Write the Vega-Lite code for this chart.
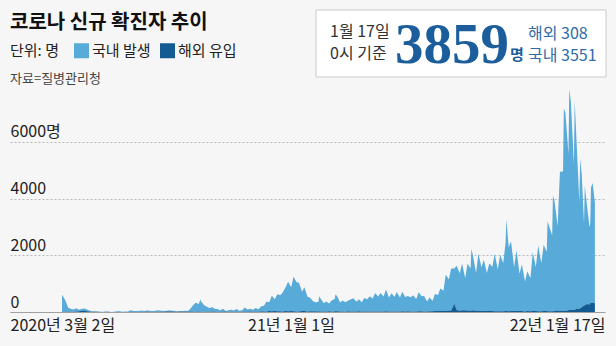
{
  "$schema": "https://vega.github.io/schema/vega-lite/v6.json",
  "width": 595,
  "height": 227,
  "autosize": {"type": "none"},
  "padding": {"left": 10, "top": 85, "right": 11, "bottom": 34},
  "background": "#f6f6f6",
  "title": {
    "text": "코로나 신규 확진자 추이",
    "subtitle": "자료=질병관리청",
    "anchor": "start",
    "frame": "group",
    "font": "Noto Sans CJK KR",
    "fontSize": 20,
    "fontWeight": "bold",
    "color": "#111111",
    "subtitleFont": "Noto Sans CJK KR",
    "subtitleFontSize": 13,
    "subtitleColor": "#444444",
    "subtitlePadding": 40,
    "offset": 1,
    "dy": 77
  },
  "datasets": {
    "확진자": [
      {"날짜": "2020-03-02", "국내 발생": 600, "해외 유입": 4},
      {"날짜": "2020-03-03", "국내 발생": 560, "해외 유입": 4},
      {"날짜": "2020-03-06", "국내 발생": 420, "해외 유입": 5},
      {"날짜": "2020-03-10", "국내 발생": 140, "해외 유입": 6},
      {"날짜": "2020-03-13", "국내 발생": 105, "해외 유입": 8},
      {"날짜": "2020-03-17", "국내 발생": 75, "해외 유입": 9},
      {"날짜": "2020-03-20", "국내 발생": 120, "해외 유입": 15},
      {"날짜": "2020-03-24", "국내 발생": 45, "해외 유입": 30},
      {"날짜": "2020-03-27", "국내 발생": 65, "해외 유입": 45},
      {"날짜": "2020-03-31", "국내 발생": 70, "해외 유입": 50},
      {"날짜": "2020-04-03", "국내 발생": 55, "해외 유입": 30},
      {"날짜": "2020-04-07", "국내 발생": 28, "해외 유입": 20},
      {"날짜": "2020-04-10", "국내 발생": 15, "해외 유입": 12},
      {"날짜": "2020-04-14", "국내 발생": 18, "해외 유입": 10},
      {"날짜": "2020-04-17", "국내 발생": 14, "해외 유입": 8},
      {"날짜": "2020-04-21", "국내 발생": 5, "해외 유입": 4},
      {"날짜": "2020-04-24", "국내 발생": 2, "해외 유입": 4},
      {"날짜": "2020-04-28", "국내 발생": 6, "해외 유입": 8},
      {"날짜": "2020-05-01", "국내 발생": 4, "해외 유입": 5},
      {"날짜": "2020-05-05", "국내 발생": 1, "해외 유입": 2},
      {"날짜": "2020-05-08", "국내 발생": 10, "해외 유입": 2},
      {"날짜": "2020-05-12", "국내 발생": 25, "해외 유입": 2},
      {"날짜": "2020-05-15", "국내 발생": 24, "해외 유입": 3},
      {"날짜": "2020-05-19", "국내 발생": 10, "해외 유입": 3},
      {"날짜": "2020-05-22", "국내 발생": 17, "해외 유입": 3},
      {"날짜": "2020-05-26", "국내 발생": 16, "해외 유입": 3},
      {"날짜": "2020-05-29", "국내 발생": 54, "해외 유입": 4},
      {"날짜": "2020-06-02", "국내 발생": 31, "해외 유입": 7},
      {"날짜": "2020-06-05", "국내 발생": 32, "해외 유입": 7},
      {"날짜": "2020-06-09", "국내 발생": 35, "해외 유입": 3},
      {"날짜": "2020-06-12", "국내 발생": 49, "해외 유입": 7},
      {"날짜": "2020-06-16", "국내 발생": 27, "해외 유입": 10},
      {"날짜": "2020-06-19", "국내 발생": 33, "해외 유입": 16},
      {"날짜": "2020-06-23", "국내 발생": 35, "해외 유입": 11},
      {"날짜": "2020-06-26", "국내 발생": 28, "해외 유입": 11},
      {"날짜": "2020-06-30", "국내 발생": 30, "해외 유입": 12},
      {"날짜": "2020-07-03", "국내 발생": 52, "해외 유입": 11},
      {"날짜": "2020-07-07", "국내 발생": 24, "해외 유입": 20},
      {"날짜": "2020-07-10", "국내 발생": 35, "해외 유입": 10},
      {"날짜": "2020-07-14", "국내 발생": 10, "해외 유입": 23},
      {"날짜": "2020-07-17", "국내 발생": 39, "해외 유입": 21},
      {"날짜": "2020-07-21", "국내 발생": 19, "해외 유입": 26},
      {"날짜": "2020-07-24", "국내 발생": 25, "해외 유입": 16},
      {"날짜": "2020-07-28", "국내 발생": 15, "해외 유입": 13},
      {"날짜": "2020-07-31", "국내 발생": 18, "해외 유입": 18},
      {"날짜": "2020-08-04", "국내 발생": 20, "해외 유입": 14},
      {"날짜": "2020-08-07", "국내 발생": 23, "해외 유입": 20},
      {"날짜": "2020-08-11", "국내 발생": 20, "해외 유입": 14},
      {"날짜": "2020-08-14", "국내 발생": 85, "해외 유입": 18},
      {"날짜": "2020-08-18", "국내 발생": 235, "해외 유입": 11},
      {"날짜": "2020-08-21", "국내 발생": 315, "해외 유입": 9},
      {"날짜": "2020-08-25", "국내 발생": 266, "해외 유입": 14},
      {"날짜": "2020-08-27", "국내 발생": 434, "해외 유입": 7},
      {"날짜": "2020-08-28", "국내 발생": 359, "해외 유입": 12},
      {"날짜": "2020-09-01", "국내 발생": 222, "해외 유입": 13},
      {"날짜": "2020-09-04", "국내 발생": 189, "해외 유입": 9},
      {"날짜": "2020-09-08", "국내 발생": 130, "해외 유입": 6},
      {"날짜": "2020-09-11", "국내 발생": 161, "해외 유입": 15},
      {"날짜": "2020-09-15", "국내 발생": 91, "해외 유입": 15},
      {"날짜": "2020-09-18", "국내 발생": 98, "해외 유입": 12},
      {"날짜": "2020-09-22", "국내 발생": 51, "해외 유입": 10},
      {"날짜": "2020-09-25", "국내 발생": 95, "해외 유입": 19},
      {"날짜": "2020-09-29", "국내 발생": 23, "해외 유입": 15},
      {"날짜": "2020-10-02", "국내 발생": 52, "해외 유입": 11},
      {"날짜": "2020-10-06", "국내 발생": 64, "해외 유입": 11},
      {"날짜": "2020-10-09", "국내 발생": 48, "해외 유입": 6},
      {"날짜": "2020-10-13", "국내 발생": 94, "해외 유입": 8},
      {"날짜": "2020-10-16", "국내 발생": 40, "해외 유입": 7},
      {"날짜": "2020-10-20", "국내 발생": 47, "해외 유입": 11},
      {"날짜": "2020-10-23", "국내 발생": 138, "해외 유입": 17},
      {"날짜": "2020-10-27", "국내 발생": 74, "해외 유입": 14},
      {"날짜": "2020-10-30", "국내 발생": 96, "해외 유입": 18},
      {"날짜": "2020-11-03", "국내 발생": 65, "해외 유입": 10},
      {"날짜": "2020-11-06", "국내 발생": 125, "해외 유입": 20},
      {"날짜": "2020-11-10", "국내 발생": 87, "해외 유입": 13},
      {"날짜": "2020-11-13", "국내 발생": 162, "해외 유입": 29},
      {"날짜": "2020-11-17", "국내 발생": 202, "해외 유입": 21},
      {"날짜": "2020-11-20", "국내 발생": 343, "해외 유입": 20},
      {"날짜": "2020-11-24", "국내 발생": 318, "해외 유입": 31},
      {"날짜": "2020-11-27", "국내 발생": 541, "해외 유입": 28},
      {"날짜": "2020-12-01", "국내 발생": 420, "해외 유입": 31},
      {"날짜": "2020-12-04", "국내 발생": 600, "해외 유입": 29},
      {"날짜": "2020-12-08", "국내 발생": 566, "해외 유입": 28},
      {"날짜": "2020-12-11", "국내 발생": 671, "해외 유입": 18},
      {"날짜": "2020-12-15", "국내 발생": 848, "해외 유입": 32},
      {"날짜": "2020-12-18", "국내 발생": 1036, "해외 유입": 26},
      {"날짜": "2020-12-22", "국내 발생": 837, "해외 유입": 32},
      {"날짜": "2020-12-25", "국내 발생": 1216, "해외 유입": 25},
      {"날짜": "2020-12-29", "국내 발생": 1030, "해외 유입": 16},
      {"날짜": "2021-01-01", "국내 발생": 1007, "해외 유입": 22},
      {"날짜": "2021-01-05", "국내 발생": 680, "해외 유입": 35},
      {"날짜": "2021-01-08", "국내 발생": 838, "해외 유입": 31},
      {"날짜": "2021-01-12", "국내 발생": 516, "해외 유입": 21},
      {"날짜": "2021-01-15", "국내 발생": 488, "해외 유입": 25},
      {"날짜": "2021-01-19", "국내 발생": 361, "해외 유입": 25},
      {"날짜": "2021-01-22", "국내 발생": 322, "해외 유입": 24},
      {"날짜": "2021-01-26", "국내 발생": 334, "해외 유입": 20},
      {"날짜": "2021-01-27", "국내 발생": 531, "해외 유입": 28},
      {"날짜": "2021-01-29", "국내 발생": 447, "해외 유입": 22},
      {"날짜": "2021-02-02", "국내 발생": 285, "해외 유입": 20},
      {"날짜": "2021-02-05", "국내 발생": 353, "해외 유입": 17},
      {"날짜": "2021-02-09", "국내 발생": 278, "해외 유입": 25},
      {"날짜": "2021-02-12", "국내 발생": 384, "해외 유입": 19},
      {"날짜": "2021-02-16", "국내 발생": 439, "해외 유입": 18},
      {"날짜": "2021-02-17", "국내 발생": 590, "해외 유입": 31},
      {"날짜": "2021-02-19", "국내 발생": 537, "해외 유입": 24},
      {"날짜": "2021-02-23", "국내 발생": 318, "해외 유입": 14},
      {"날짜": "2021-02-26", "국내 발생": 388, "해외 유입": 18},
      {"날짜": "2021-03-02", "국내 발생": 331, "해외 유입": 13},
      {"날짜": "2021-03-05", "국내 발생": 373, "해외 유입": 25},
      {"날짜": "2021-03-09", "국내 발생": 427, "해외 유입": 19},
      {"날짜": "2021-03-12", "국내 발생": 470, "해외 유입": 18},
      {"날짜": "2021-03-16", "국내 발생": 346, "해외 유입": 17},
      {"날짜": "2021-03-19", "국내 발생": 429, "해외 유입": 23},
      {"날짜": "2021-03-23", "국내 발생": 330, "해외 유입": 16},
      {"날짜": "2021-03-26", "국내 발생": 477, "해외 유입": 17},
      {"날짜": "2021-03-30", "국내 발생": 428, "해외 유입": 19},
      {"날짜": "2021-04-02", "국내 발생": 538, "해외 유입": 20},
      {"날짜": "2021-04-06", "국내 발생": 459, "해외 유입": 19},
      {"날짜": "2021-04-09", "국내 발생": 650, "해외 유입": 21},
      {"날짜": "2021-04-13", "국내 발생": 525, "해외 유입": 17},
      {"날짜": "2021-04-16", "국내 발생": 651, "해외 유입": 22},
      {"날짜": "2021-04-20", "국내 발생": 532, "해외 유입": 17},
      {"날짜": "2021-04-23", "국내 발생": 774, "해외 유입": 23},
      {"날짜": "2021-04-27", "국내 발생": 494, "해외 유입": 18},
      {"날짜": "2021-04-30", "국내 발생": 640, "해외 유입": 21},
      {"날짜": "2021-05-04", "국내 발생": 521, "해외 유입": 20},
      {"날짜": "2021-05-07", "국내 발생": 681, "해외 유입": 20},
      {"날짜": "2021-05-11", "국내 발생": 494, "해외 유입": 17},
      {"날짜": "2021-05-14", "국내 발생": 688, "해외 유입": 27},
      {"날짜": "2021-05-18", "국내 발생": 510, "해외 유입": 18},
      {"날짜": "2021-05-21", "국내 발생": 537, "해외 유입": 24},
      {"날짜": "2021-05-25", "국내 발생": 497, "해외 유입": 19},
      {"날짜": "2021-05-28", "국내 발생": 565, "해외 유입": 22},
      {"날짜": "2021-06-01", "국내 발생": 441, "해외 유입": 18},
      {"날짜": "2021-06-04", "국내 발생": 668, "해외 유입": 27},
      {"날짜": "2021-06-08", "국내 발생": 533, "해외 유입": 23},
      {"날짜": "2021-06-11", "국내 발생": 543, "해외 유입": 22},
      {"날짜": "2021-06-15", "국내 발생": 351, "해외 유입": 22},
      {"날짜": "2021-06-18", "국내 발생": 483, "해외 유입": 24},
      {"날짜": "2021-06-22", "국내 발생": 369, "해외 유입": 26},
      {"날짜": "2021-06-25", "국내 발생": 601, "해외 유입": 33},
      {"날짜": "2021-06-29", "국내 발생": 561, "해외 유입": 34},
      {"날짜": "2021-07-02", "국내 발생": 794, "해외 유입": 32},
      {"날짜": "2021-07-06", "국내 발생": 711, "해외 유입": 35},
      {"날짜": "2021-07-09", "국내 발생": 1275, "해외 유입": 41},
      {"날짜": "2021-07-13", "국내 발생": 1100, "해외 유입": 50},
      {"날짜": "2021-07-16", "국내 발생": 1487, "해외 유입": 49},
      {"날짜": "2021-07-20", "국내 발생": 1230, "해외 유입": 300},
      {"날짜": "2021-07-23", "국내 발생": 1562, "해외 유입": 68},
      {"날짜": "2021-07-27", "국내 발생": 1318, "해외 유입": 47},
      {"날짜": "2021-07-30", "국내 발생": 1651, "해외 유입": 59},
      {"날짜": "2021-08-03", "국내 발생": 1142, "해외 유입": 60},
      {"날짜": "2021-08-06", "국내 발생": 1648, "해외 유입": 56},
      {"날짜": "2021-08-10", "국내 발생": 1492, "해외 유입": 48},
      {"날짜": "2021-08-11", "국내 발생": 2167, "해외 유입": 56},
      {"날짜": "2021-08-13", "국내 발생": 1930, "해외 유입": 60},
      {"날짜": "2021-08-17", "국내 발생": 1326, "해외 유입": 46},
      {"날짜": "2021-08-20", "국내 발생": 2005, "해외 유입": 47},
      {"날짜": "2021-08-24", "국내 발생": 1539, "해외 유입": 37},
      {"날짜": "2021-08-27", "국내 발생": 1802, "해외 유입": 39},
      {"날짜": "2021-08-31", "국내 발생": 1332, "해외 유입": 40},
      {"날짜": "2021-09-03", "국내 발생": 1672, "해외 유입": 37},
      {"날짜": "2021-09-07", "국내 발생": 1565, "해외 유입": 32},
      {"날짜": "2021-09-10", "국내 발생": 2019, "해외 유입": 30},
      {"날짜": "2021-09-14", "국내 발생": 1469, "해외 유입": 28},
      {"날짜": "2021-09-17", "국내 발생": 1979, "해외 유입": 29},
      {"날짜": "2021-09-21", "국내 발생": 1699, "해외 유입": 30},
      {"날짜": "2021-09-24", "국내 발생": 2400, "해외 유입": 34},
      {"날짜": "2021-09-25", "국내 발생": 3239, "해외 유입": 34},
      {"날짜": "2021-09-28", "국내 발생": 2259, "해외 유입": 30},
      {"날짜": "2021-10-01", "국내 발생": 2453, "해외 유입": 33},
      {"날짜": "2021-10-05", "국내 발생": 1541, "해외 유입": 34},
      {"날짜": "2021-10-08", "국내 발생": 2142, "해외 유입": 33},
      {"날짜": "2021-10-12", "국내 발생": 1315, "해외 유입": 32},
      {"날짜": "2021-10-15", "국내 발생": 1653, "해외 유입": 31},
      {"날짜": "2021-10-19", "국내 발생": 1053, "해외 유입": 20},
      {"날짜": "2021-10-22", "국내 발생": 1407, "해외 유입": 32},
      {"날짜": "2021-10-26", "국내 발생": 1160, "해외 유입": 30},
      {"날짜": "2021-10-29", "국내 발생": 2072, "해외 유입": 32},
      {"날짜": "2021-11-02", "국내 발생": 1557, "해외 유입": 32},
      {"날짜": "2021-11-05", "국내 발생": 2318, "해외 유입": 26},
      {"날짜": "2021-11-09", "국내 발생": 1686, "해외 유입": 29},
      {"날짜": "2021-11-12", "국내 발생": 2332, "해외 유입": 36},
      {"날짜": "2021-11-16", "국내 발생": 2094, "해외 유입": 31},
      {"날짜": "2021-11-17", "국내 발생": 3163, "해외 유입": 24},
      {"날짜": "2021-11-19", "국내 발생": 3009, "해외 유입": 25},
      {"날짜": "2021-11-23", "국내 발생": 2669, "해외 유입": 30},
      {"날짜": "2021-11-24", "국내 발생": 4088, "해외 유입": 28},
      {"날짜": "2021-11-26", "국내 발생": 3862, "해외 유입": 37},
      {"날짜": "2021-11-30", "국내 발생": 2976, "해외 유입": 56},
      {"날짜": "2021-12-03", "국내 발생": 4897, "해외 유입": 47},
      {"날짜": "2021-12-07", "국내 발생": 4916, "해외 유입": 38},
      {"날짜": "2021-12-08", "국내 발생": 7142, "해외 유입": 33},
      {"날짜": "2021-12-10", "국내 발생": 6977, "해외 유입": 45},
      {"날짜": "2021-12-14", "국내 발생": 5509, "해외 유입": 58},
      {"날짜": "2021-12-15", "국내 발생": 7770, "해외 유입": 80},
      {"날짜": "2021-12-17", "국내 발생": 7362, "해외 유입": 73},
      {"날짜": "2021-12-21", "국내 발생": 5126, "해외 유입": 76},
      {"날짜": "2021-12-22", "국내 발생": 7373, "해외 유입": 83},
      {"날짜": "2021-12-24", "국내 발생": 6115, "해외 유입": 118},
      {"날짜": "2021-12-28", "국내 발생": 3762, "해외 유입": 103},
      {"날짜": "2021-12-29", "국내 발생": 5280, "해외 유입": 129},
      {"날짜": "2021-12-31", "국내 발생": 4704, "해외 유입": 171},
      {"날짜": "2022-01-03", "국내 발생": 2900, "해외 유입": 229},
      {"날짜": "2022-01-04", "국내 발생": 4203, "해외 유입": 239},
      {"날짜": "2022-01-07", "국내 발생": 3435, "해외 유입": 278},
      {"날짜": "2022-01-10", "국내 발생": 2740, "해외 유입": 265},
      {"날짜": "2022-01-11", "국내 발생": 2790, "해외 유입": 304},
      {"날짜": "2022-01-12", "국내 발생": 4060, "해외 유입": 326},
      {"날짜": "2022-01-14", "국내 발생": 4214, "해외 유입": 328},
      {"날짜": "2022-01-17", "국내 발생": 3551, "해외 유입": 308}
    ],
    "요약": [
      {"칸": "기준", "줄": "위", "글": "1월 17일"},
      {"칸": "기준", "줄": "아래", "글": "0시 기준"},
      {"칸": "총계", "줄": "아래", "글": "3859"},
      {"칸": "단위", "줄": "아래", "글": "명"},
      {"칸": "내역", "줄": "위", "글": "해외 308"},
      {"칸": "내역", "줄": "아래", "글": "국내 3551"}
    ]
  },
  "layer": [
    {
      "data": {"name": "확진자"},
      "transform": [{"fold": ["국내 발생", "해외 유입"], "as": ["구분", "확진자 수"]}],
      "mark": {"type": "area", "interpolate": "linear"},
      "encoding": {
        "x": {
          "field": "날짜",
          "type": "temporal",
          "scale": {"domain": [{"year": 2019, "month": 12, "date": 26, "utc": true}, {"year": 2022, "month": 1, "date": 30, "utc": true}]},
          "axis": {
            "title": null,
            "values": [{"year": 2020, "month": 3, "date": 2, "utc": true}, {"year": 2021, "month": 1, "date": 1, "utc": true}, {"year": 2022, "month": 1, "date": 17, "utc": true}],
            "labelExpr": "datum.index == 0 ? utcFormat(datum.value, '%Y년 %-m월 %-d일') : utcFormat(datum.value, '%y년 %-m월 %-d일')",
            "labelAlign": {"condition": [{"test": "datum.index == 0", "value": "left"}, {"test": "datum.index == 1", "value": "right"}], "value": "center"},
            "labelOffset": {"condition": [{"test": "datum.index == 0", "value": -52}, {"test": "datum.index == 1", "value": 10}], "value": -8},
            "labelFont": "Liberation Sans Narrow, Noto Sans CJK KR",
            "labelFontSize": 16,
            "labelColor": "#222222",
            "labelPadding": 5,
            "labelBound": false,
            "labelOverlap": false,
            "ticks": false,
            "tickSize": 0,
            "grid": false,
            "domain": true,
            "domainColor": "#a0a0a0",
            "domainWidth": 1
          }
        },
        "y": {
          "field": "확진자 수",
          "type": "quantitative",
          "stack": "zero",
          "scale": {"domain": [0, 8000]},
          "axis": {
            "title": null,
            "values": [0, 2000, 4000, 6000],
            "labelExpr": "datum.value == 6000 ? '6000명' : format(datum.value, 'd')",
            "labelAlign": "left",
            "labelBaseline": "alphabetic",
            "labelOffset": -5,
            "labelPadding": 0,
            "labelFont": "Liberation Sans Narrow, Noto Sans CJK KR",
            "labelFontSize": 16,
            "labelColor": "#222222",
            "ticks": false,
            "tickSize": 0,
            "domain": false,
            "grid": true,
            "gridColor": "#b8b8b8",
            "gridDash": [2, 2],
            "gridWidth": 1
          }
        },
        "color": {
          "field": "구분",
          "type": "nominal",
          "scale": {"domain": ["국내 발생", "해외 유입"], "range": ["#58aad9", "#145b94"]},
          "legend": {
            "title": "단위: 명",
            "orient": "none",
            "legendX": 0,
            "legendY": -42,
            "direction": "horizontal",
            "titleOrient": "left",
            "titleFont": "Noto Sans CJK KR",
            "titleFontSize": 15,
            "titleFontWeight": "normal",
            "titleColor": "#222222",
            "titlePadding": 15,
            "labelFont": "Noto Sans CJK KR",
            "labelFontSize": 15,
            "labelColor": "#222222",
            "labelOffset": 3,
            "columnPadding": 9,
            "symbolType": "square",
            "symbolSize": 225,
            "symbolStrokeWidth": 0,
            "symbolOpacity": 1
          }
        },
        "order": {"field": "구분", "sort": "descending"}
      }
    },
    {
      "data": {"name": "요약"},
      "transform": [{"filter": "datum['칸'] == '총계'"}],
      "mark": {"type": "rect", "fill": "#ffffff", "stroke": "#c9c9c9", "strokeWidth": 1},
      "encoding": {
        "x": {"field": "칸", "type": "nominal", "scale": {"type": "band", "range": [306, 596], "paddingInner": 0, "paddingOuter": 0}, "axis": null},
        "y": {"field": "칸", "type": "nominal", "scale": {"type": "band", "range": [-75, -8], "paddingInner": 0, "paddingOuter": 0}, "axis": null}
      }
    },
    {
      "data": {"name": "요약"},
      "transform": [{"filter": "datum['칸'] == '기준'"}],
      "mark": {"type": "text", "align": "left", "baseline": "alphabetic", "font": "Liberation Sans Narrow, Noto Sans CJK KR", "fontSize": 16, "color": "#333333"},
      "encoding": {
        "x": {"field": "칸", "type": "nominal", "scale": {"type": "point", "range": [320, 320]}, "axis": null},
        "y": {"field": "줄", "type": "nominal", "scale": {"type": "point", "domain": ["위", "아래"], "range": [-48, -26], "padding": 0}, "axis": null},
        "text": {"field": "글"}
      }
    },
    {
      "data": {"name": "요약"},
      "transform": [{"filter": "datum['칸'] == '총계'"}],
      "mark": {"type": "text", "align": "center", "baseline": "alphabetic", "font": "Liberation Serif", "fontWeight": "bold", "fontSize": 57, "color": "#1c5e9b"},
      "encoding": {
        "x": {"field": "칸", "type": "nominal", "scale": {"type": "point", "range": [442, 442]}, "axis": null},
        "y": {"field": "줄", "type": "nominal", "scale": {"type": "point", "range": [-22, -22]}, "axis": null},
        "text": {"field": "글"}
      }
    },
    {
      "data": {"name": "요약"},
      "transform": [{"filter": "datum['칸'] == '단위'"}],
      "mark": {"type": "text", "align": "left", "baseline": "alphabetic", "font": "Noto Sans CJK KR", "fontWeight": "bold", "fontSize": 15, "color": "#1c5e9b"},
      "encoding": {
        "x": {"field": "칸", "type": "nominal", "scale": {"type": "point", "range": [500, 500]}, "axis": null},
        "y": {"field": "줄", "type": "nominal", "scale": {"type": "point", "range": [-25, -25]}, "axis": null},
        "text": {"field": "글"}
      }
    },
    {
      "data": {"name": "요약"},
      "transform": [{"filter": "datum['칸'] == '내역'"}],
      "mark": {"type": "text", "align": "left", "baseline": "alphabetic", "font": "Liberation Sans Narrow, Noto Sans CJK KR", "fontSize": 16, "color": "#2f6ca8"},
      "encoding": {
        "x": {"field": "칸", "type": "nominal", "scale": {"type": "point", "range": [518, 518]}, "axis": null},
        "y": {"field": "줄", "type": "nominal", "scale": {"type": "point", "domain": ["위", "아래"], "range": [-46, -24], "padding": 0}, "axis": null},
        "text": {"field": "글"}
      }
    }
  ],
  "resolve": {"scale": {"x": "independent", "y": "independent"}},
  "config": {"view": {"stroke": null}}
}
